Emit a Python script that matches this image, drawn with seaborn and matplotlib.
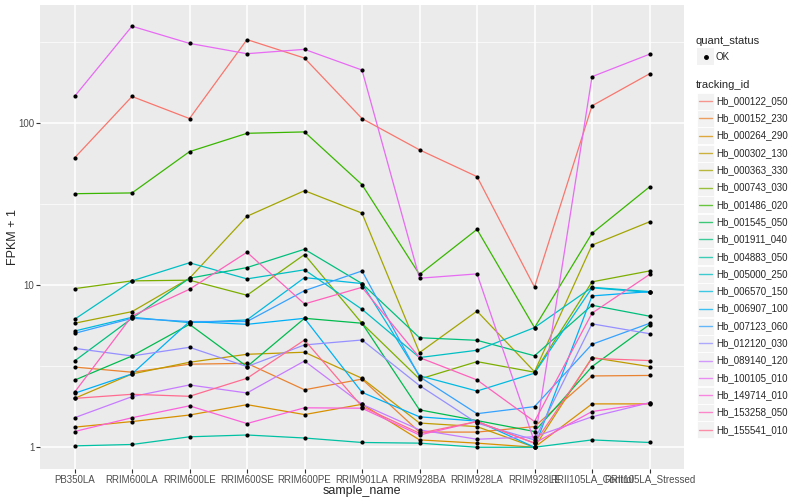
import numpy as np
import pandas as pd
import matplotlib
matplotlib.use("Agg")
import matplotlib.pyplot as plt
import seaborn as sns
from matplotlib.lines import Line2D
from matplotlib.patches import Rectangle

samples = ["PB350LA", "RRIM600LA", "RRIM600LE", "RRIM600SE", "RRIM600PE", "RRIM901LA",
           "RRIM928BA", "RRIM928LA", "RRIM928LE", "RRII105LA_Control", "RRII105LA_Stressed"]

# FPKM + 1 per gene
hb_000122_050 = [60.6, 145, 106, 325, 250, 106, 68, 46.5, 9.7, 127, 200]
hb_000152_230 = [3.12, 2.9, 3.25, 3.29, 2.26, 2.63, 1.24, 1.24, 1.34, 2.75, 2.77]
hb_000264_290 = [1.33, 1.44, 1.58, 1.83, 1.59, 1.84, 1.11, 1.06, 1.0, 1.85, 1.85]
hb_000302_130 = [2.0, 2.83, 3.34, 3.74, 3.85, 2.66, 1.41, 1.34, 1.0, 3.57, 3.14]
hb_000363_330 = [5.81, 6.85, 11.0, 26.5, 38.1, 27.7, 3.83, 6.9, 2.92, 17.6, 24.5]
hb_000743_030 = [9.49, 10.6, 10.7, 8.64, 15.4, 5.8, 2.63, 3.37, 2.9, 10.45, 12.2]
hb_001486_020 = [36.5, 36.9, 66.3, 86, 87.7, 41.5, 11.6, 22.0, 5.46, 20.8, 40.2]
hb_001545_050 = [2.59, 3.65, 5.72, 3.14, 6.23, 5.81, 1.70, 1.46, 1.25, 3.14, 5.7]
hb_001911_040 = [3.40, 6.23, 11.0, 12.8, 16.6, 10.2, 4.73, 4.56, 3.66, 7.5, 6.42]
hb_004883_050 = [1.02, 1.04, 1.16, 1.19, 1.14, 1.07, 1.06, 1.0, 1.0, 1.11, 1.07]
hb_005000_250 = [6.14, 10.6, 13.7, 10.9, 12.4, 7.08, 3.57, 3.96, 5.46, 9.67, 9.1]
hb_006570_150 = [5.2, 6.32, 5.86, 6.09, 11.1, 10.2, 2.76, 2.22, 2.86, 9.6, 9.0]
hb_006907_100 = [2.15, 2.83, 5.95, 5.72, 6.23, 2.18, 1.54, 1.45, 1.0, 8.56, 9.1]
hb_007123_060 = [5.03, 6.23, 5.95, 5.95, 9.22, 12.2, 2.72, 1.61, 1.78, 4.31, 5.8]
hb_012120_030 = [4.07, 3.65, 4.13, 3.14, 4.27, 4.58, 2.40, 1.41, 1.11, 5.76, 5.01]
hb_089140_120 = [1.52, 2.05, 2.42, 2.16, 3.40, 1.84, 1.28, 1.12, 1.16, 1.54, 1.88]
hb_100105_010 = [145, 393, 308, 266, 283, 211, 11.0, 11.7, 1.08, 192, 264]
hb_149714_010 = [1.25, 1.52, 1.80, 1.40, 1.75, 1.74, 1.19, 1.44, 1.06, 1.66, 1.87]
hb_153258_050 = [2.18, 6.44, 9.41, 15.9, 7.64, 9.67, 3.57, 2.6, 1.44, 6.7, 11.6]
hb_155541_010 = [2.0, 2.12, 2.06, 2.66, 4.58, 1.78, 1.22, 1.44, 1.06, 3.53, 3.42]

genes = ["Hb_000122_050", "Hb_000152_230", "Hb_000264_290", "Hb_000302_130", "Hb_000363_330",
         "Hb_000743_030", "Hb_001486_020", "Hb_001545_050", "Hb_001911_040", "Hb_004883_050",
         "Hb_005000_250", "Hb_006570_150", "Hb_006907_100", "Hb_007123_060", "Hb_012120_030",
         "Hb_089140_120", "Hb_100105_010", "Hb_149714_010", "Hb_153258_050", "Hb_155541_010"]
series = [hb_000122_050, hb_000152_230, hb_000264_290, hb_000302_130, hb_000363_330,
          hb_000743_030, hb_001486_020, hb_001545_050, hb_001911_040, hb_004883_050,
          hb_005000_250, hb_006570_150, hb_006907_100, hb_007123_060, hb_012120_030,
          hb_089140_120, hb_100105_010, hb_149714_010, hb_153258_050, hb_155541_010]

# ggplot default hue palette for 20 levels
colors = ["#F8766D", "#EA8331", "#D89000", "#C09B00", "#A3A500", "#7CAE00", "#39B600",
          "#00BB4E", "#00BF7D", "#00C1A3", "#00BFC4", "#00BAE0", "#00B0F6", "#35A2FF",
          "#9590FF", "#C77CFF", "#E76BF3", "#FA62DB", "#FF62BC", "#FF6C91"]

rows = []
for g, vals in zip(genes, series):
    for i, v in enumerate(vals):
        rows.append({"tracking_id": g, "sample_name": samples[i], "pos": i, "fpkm": v})
df = pd.DataFrame(rows)

sns.set_theme(style="darkgrid")
plt.rcParams["font.family"] = ["Liberation Sans", "DejaVu Sans"]

fig = plt.figure(figsize=(8, 5), dpi=100)
ax = fig.add_axes([40 / 800, 1 - 469 / 500, 644 / 800, 464 / 500])
ax.set_facecolor("#EBEBEB")

sns.lineplot(data=df, x="pos", y="fpkm", hue="tracking_id", palette=dict(zip(genes, colors)),
             estimator=None, sort=False, linewidth=0.9, legend=False, ax=ax, zorder=2)
sns.scatterplot(data=df, x="pos", y="fpkm", color="black", s=9, linewidth=0,
                legend=False, ax=ax, zorder=3)

ax.set_yscale("log")
ax.set_ylim(10 ** -0.134, 10 ** 2.725)
ax.set_xlim(-0.6, len(samples) - 0.4)
ax.set_yticks([1, 10, 100])
ax.set_yticklabels(["1", "10", "100"])
ax.set_yticks([10 ** 0.5, 10 ** 1.5, 10 ** 2.5], minor=True)
ax.set_xticks(range(len(samples)))
ax.set_xticklabels(samples)
ax.grid(which="major", color="white", linewidth=1.1)
ax.grid(which="minor", axis="y", color="white", linewidth=0.5)
ax.tick_params(which="major", length=3, width=0.8, color="#333333", labelsize=7,
               labelcolor="#4D4D4D", pad=1, left=True, bottom=True)
ax.tick_params(which="minor", length=0)
for s in ax.spines.values():
    s.set_visible(False)
ax.set_xlabel("sample_name", fontsize=9)
ax.set_ylabel("FPKM + 1", fontsize=9)
ax.xaxis.set_label_coords(0.5, -(491 - 469) / 464, transform=ax.transAxes)
ax.yaxis.set_label_coords(-(40 - 13) / 644, 0.5, transform=ax.transAxes)
ax.xaxis.label.set_va("center")
ax.yaxis.label.set_va("center")


def px(x, y):
    return x / 800, 1 - y / 500


# quant_status legend
fig.text(*px(696, 41), "quant_status", fontsize=8, va="center", ha="left")
fig.add_artist(Rectangle(px(697, 65), 17 / 800, 17 / 500, transform=fig.transFigure,
                         facecolor="#F2F2F2", edgecolor="none"))
fig.add_artist(Line2D([705.5 / 800], [1 - 57 / 500], marker="o", color="black",
                      markersize=2.5, transform=fig.transFigure))
fig.text(*px(716, 57), "OK", fontsize=7, va="center", ha="left")

# tracking_id legend
fig.text(*px(696, 85), "tracking_id", fontsize=8, va="center", ha="left")
step = 17.3
for k, (g, c) in enumerate(zip(genes, colors)):
    yc = 101 + k * step
    fig.add_artist(Rectangle(px(697, yc + 8.6), 17 / 800, 17 / 500, transform=fig.transFigure,
                             facecolor="#F2F2F2", edgecolor="white", linewidth=0.6))
    fig.add_artist(Line2D([699 / 800, 712 / 800], [1 - yc / 500] * 2, color=c, alpha=0.75,
                          linewidth=1.0, transform=fig.transFigure))
    fig.text(*px(716, yc), g, fontsize=7, va="center", ha="left")

fig.savefig("out.png", dpi=100)
